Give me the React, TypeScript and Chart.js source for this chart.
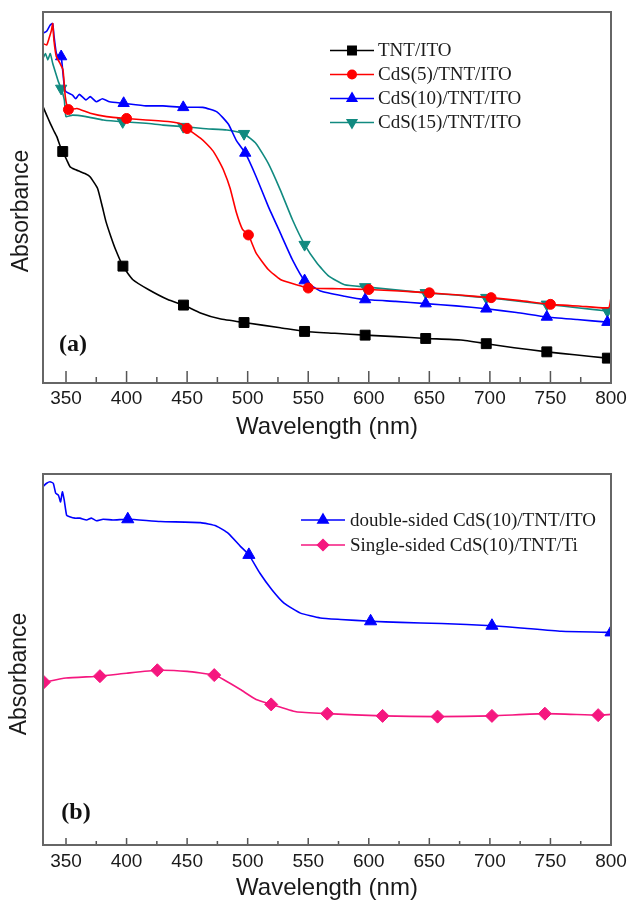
import React, { useEffect, useRef } from 'react';
import { Chart, registerables } from 'chart.js';
import { drawPoint } from 'chart.js/helpers';

Chart.register(...registerables);

// ---------- axis ----------
const X_MIN = 331;
const X_MAX = 800;
const X_TICKS = [350, 400, 450, 500, 550, 600, 650, 700, 750, 800];
const X_MINOR = [375, 425, 475, 525, 575, 625, 675, 725, 775];

// ---------- panel (a) ----------
const TNT_X = [331, 334, 337, 339.6, 342.4, 345, 347.3, 350.6, 353.3, 357, 361.5, 366, 369.8, 376, 380, 383, 387, 391, 397, 405, 418, 434, 447, 461, 477, 497, 527, 547, 572, 597, 622, 647, 676, 697, 720, 747, 770, 797, 800];
const TNT_Y = [74.5, 72.2, 70, 68.2, 66.4, 64, 62.4, 60.1, 58.3, 57.6, 57, 56.4, 55.6, 52.5, 47.5, 43.5, 39.5, 35.9, 31.5, 27.9, 25.2, 22.5, 21, 18.9, 17.3, 16.3, 14.9, 13.9, 13.4, 12.9, 12.5, 12, 11.6, 10.6, 9.5, 8.4, 7.6, 6.7, 6.6];
const TNT_MARKS = [347.3, 397, 447, 497, 547, 597, 647, 697, 747, 797];

const CDS5_X = [331, 334, 336, 338, 339, 340, 342, 345, 347.5, 349.4, 352, 359, 370, 383.6, 400, 416, 436, 445, 450, 461, 466, 471.5, 476, 480, 485.5, 490.6, 495.6, 500.6, 507, 517, 527, 540, 550, 575, 600, 625, 650, 675, 701, 725, 750, 775, 798, 800];
const CDS5_Y = [91.5, 91.1, 92.9, 95.1, 96.9, 92.5, 88, 86.2, 84.4, 77.2, 73.7, 74, 72.7, 71.8, 71.3, 70.9, 70.4, 69.8, 68.6, 66, 64.5, 62.5, 60, 57.4, 52.5, 46, 41.5, 39.9, 35, 30.6, 27.9, 26.5, 25.6, 25.4, 25.2, 24.8, 24.3, 23.7, 23, 22.2, 21.2, 20.7, 20.3, 23];
const CDS5_MARKS = [352, 400, 450, 500.6, 550, 600, 650, 701, 750];

const CDS10_X = [331, 334, 337, 339, 340, 342, 344, 346, 348.6, 350, 355.4, 358, 361, 366.5, 370, 375, 380, 386, 397.6, 416, 430, 446.8, 463, 474.6, 484, 490.6, 498, 507, 517, 527, 537, 547, 560, 580, 597, 622, 647, 672, 697, 722, 747, 772, 797, 800];
const CDS10_Y = [94.3, 94.8, 96.5, 96.9, 93.8, 88.9, 88, 88, 79.9, 78.5, 77.6, 76.6, 77.8, 76.3, 77.2, 75.8, 76.6, 75.8, 75.4, 74.7, 74.7, 74.3, 74.3, 73.1, 69.8, 65.4, 62, 55.6, 47.6, 40.4, 33.2, 27.6, 24.8, 23.4, 22.5, 22, 21.4, 20.8, 20, 19, 17.8, 17.1, 16.4, 16.3];
const CDS10_MARKS = [346, 397.6, 446.8, 498, 547, 597, 647, 697, 747, 797];

const CDS15_X = [331, 333, 335, 337, 339, 341.5, 343.6, 346, 348.6, 350, 355.4, 366.5, 380.8, 396.8, 416, 430, 446.8, 463, 482.8, 490, 497, 507, 517, 527, 537, 547, 557, 567, 580, 597, 622, 647, 672, 697, 722, 747, 772, 797, 800];
const CDS15_Y = [87.5, 88.8, 87.1, 88.8, 86.2, 83.5, 81.3, 79.4, 76.3, 71.8, 72.2, 71.8, 70.9, 70.4, 70, 69.5, 69.1, 68.6, 68.2, 67.8, 67.2, 64.5, 59.2, 52, 44, 37.3, 32.4, 28.8, 26.5, 25.9, 25.1, 24.3, 23.7, 23, 22.1, 21.2, 20.3, 19.4, 19.3];
const CDS15_MARKS = [346, 396.8, 446.8, 497, 547, 597, 647, 697, 747, 797];

// ---------- panel (b) ----------
const DOUBLE_X = [331, 334, 336.8, 339.5, 341.5, 343.7, 345.5, 347, 348.5, 350.5, 353, 357.4, 361.5, 367, 371, 375, 380.6, 388.8, 401, 428, 461, 474, 484, 494, 501, 510, 520, 530, 543.6, 560, 576.7, 601.5, 626, 660, 701.7, 725.6, 759, 800];
const DOUBLE_Y = [96.6, 97.5, 97.9, 97.5, 94.8, 94.3, 92.5, 95.2, 93, 88.9, 88.5, 88.1, 88.1, 87.6, 88.1, 87.4, 87.8, 87.6, 87.8, 87.2, 86.9, 86, 84, 80.5, 78.2, 73.3, 68.8, 65.2, 62.5, 61.2, 60.8, 60.3, 60, 59.7, 59.1, 58.5, 57.6, 57.3];
const DOUBLE_MARKS = [401, 501, 601.5, 701.7, 800];

const SINGLE_X = [331, 331.8, 350, 378, 400, 425.4, 450, 472.4, 480, 494, 507, 519.4, 540, 565.7, 611.4, 656.8, 701.7, 745.4, 789.4, 800];
const SINGLE_Y = [43.8, 43.9, 45, 45.5, 46.3, 47.1, 46.8, 45.8, 44.6, 41.9, 39.2, 37.9, 35.9, 35.4, 34.8, 34.6, 34.8, 35.4, 35.0, 35.2];
const SINGLE_MARKS = [331.8, 378, 425.4, 472.4, 519.4, 565.7, 611.4, 656.8, 701.7, 745.4, 789.4];

type Series = {
  label: string; xs: number[]; ys: number[]; marks: number[];
  color: string; style: string; radius: number; rotation: number;
};

const SERIES_A: Series[] = [
  { label: 'TNT/ITO', xs: TNT_X, ys: TNT_Y, marks: TNT_MARKS, color: '#000000', style: 'rect', radius: 7, rotation: 0 },
  { label: 'CdS(5)/TNT/ITO', xs: CDS5_X, ys: CDS5_Y, marks: CDS5_MARKS, color: '#ff0000', style: 'circle', radius: 5, rotation: 0 },
  { label: 'CdS(10)/TNT/ITO', xs: CDS10_X, ys: CDS10_Y, marks: CDS10_MARKS, color: '#0000ff', style: 'triangle', radius: 6.5, rotation: 0 },
  { label: 'CdS(15)/TNT/ITO', xs: CDS15_X, ys: CDS15_Y, marks: CDS15_MARKS, color: '#118a80', style: 'triangle', radius: 6.5, rotation: 180 },
];

const SERIES_B: Series[] = [
  { label: 'double-sided CdS(10)/TNT/ITO', xs: DOUBLE_X, ys: DOUBLE_Y, marks: DOUBLE_MARKS, color: '#0000ff', style: 'triangle', radius: 7, rotation: 0 },
  { label: 'Single-sided CdS(10)/TNT/Ti', xs: SINGLE_X, ys: SINGLE_Y, marks: SINGLE_MARKS, color: '#f5177f', style: 'rectRot', radius: 6.5, rotation: 0 },
];

type Panel = {
  series: Series[]; height: number; padTop: number; axisHeight: number;
  tickPad: number; titlePad: number; majorLen: number; minorLen: number;
  tag: string; tagX: number; tagY: number; yLabelX: number; yLabelY: number;
  legendLineX1: number; legendLineX2: number; legendTextX: number; legendY0: number; legendStep: number;
};

const PANEL_A: Panel = {
  series: SERIES_A, height: 450, padTop: 12, axisHeight: 67, tickPad: 6, titlePad: 11,
  majorLen: 12, minorLen: 6, tag: '(a)', tagX: 73, tagY: 345, yLabelX: 22, yLabelY: 211,
  legendLineX1: 330, legendLineX2: 374, legendTextX: 378, legendY0: 50.5, legendStep: 24,
};

const PANEL_B: Panel = {
  series: SERIES_B, height: 456, padTop: 24, axisHeight: 61, tickPad: 7, titlePad: 6,
  majorLen: 7, minorLen: 4, tag: '(b)', tagX: 76, tagY: 363, yLabelX: 20, yLabelY: 224,
  legendLineX1: 301, legendLineX2: 345, legendTextX: 350, legendY0: 70, legendStep: 25,
};

const SANS = '"Liberation Sans", Arial, sans-serif';
const SERIF = '"Liberation Serif", "Times New Roman", serif';
const TEXT = '#1a1a1a';

function makeConfig(p: Panel): any {
  const datasets = p.series.map((s) => ({
    label: s.label,
    data: s.xs.map((x, i) => ({ x, y: s.ys[i] })),
    borderColor: s.color,
    backgroundColor: s.color,
    borderWidth: 1.6,
    pointRadius: s.xs.map((x) => (s.marks.includes(x) ? s.radius : 0)),
    pointHoverRadius: 0,
    pointStyle: s.style,
    pointRotation: s.rotation,
    pointBackgroundColor: s.color,
    pointBorderColor: s.color,
    pointBorderWidth: 1,
    tension: 0.15,
    fill: false,
  }));

  const decor = {
    id: 'decor',
    afterDatasetsDraw(chart: any) {
      const { ctx, chartArea: a } = chart;
      const x = chart.scales.x;
      ctx.save();
      // inward ticks
      ctx.strokeStyle = '#555';
      ctx.lineWidth = 1.5;
      ctx.beginPath();
      for (const v of X_TICKS) {
        const px = x.getPixelForValue(v);
        ctx.moveTo(px, a.bottom);
        ctx.lineTo(px, a.bottom - p.majorLen);
      }
      for (const v of X_MINOR) {
        const px = x.getPixelForValue(v);
        ctx.moveTo(px, a.bottom);
        ctx.lineTo(px, a.bottom - p.minorLen);
      }
      ctx.stroke();
      // frame
      ctx.strokeStyle = '#666';
      ctx.lineWidth = 2;
      ctx.strokeRect(a.left, a.top, a.right - a.left, a.bottom - a.top);
      // panel tag
      ctx.fillStyle = '#111';
      ctx.font = `bold 24px ${SERIF}`;
      ctx.textAlign = 'center';
      ctx.textBaseline = 'middle';
      ctx.fillText(p.tag, p.tagX, p.tagY);
      // y title
      ctx.save();
      ctx.translate(p.yLabelX, p.yLabelY);
      ctx.rotate(-Math.PI / 2);
      ctx.font = `23px ${SANS}`;
      ctx.fillStyle = TEXT;
      ctx.fillText('Absorbance', 0, 0);
      ctx.restore();
      // legend
      p.series.forEach((s, i) => {
        const y = p.legendY0 + i * p.legendStep;
        ctx.strokeStyle = s.color;
        ctx.lineWidth = 1.5;
        ctx.beginPath();
        ctx.moveTo(p.legendLineX1, y);
        ctx.lineTo(p.legendLineX2, y);
        ctx.stroke();
        ctx.fillStyle = s.color;
        drawPoint(ctx, { pointStyle: s.style, radius: s.radius * 0.85, rotation: s.rotation, borderWidth: 1 } as any,
          (p.legendLineX1 + p.legendLineX2) / 2, y);
        ctx.fillStyle = TEXT;
        ctx.font = `19px ${SERIF}`;
        ctx.textAlign = 'left';
        ctx.textBaseline = 'middle';
        ctx.fillText(s.label, p.legendTextX, y + 1);
      });
      ctx.restore();
    },
  };

  return {
    type: 'line',
    data: { datasets },
    plugins: [decor],
    options: {
      responsive: false,
      animation: false,
      events: [],
      layout: { padding: { left: 43, right: 17, top: p.padTop, bottom: 0 } },
      plugins: { legend: { display: false }, tooltip: { enabled: false }, title: { display: false } },
      scales: {
        x: {
          type: 'linear',
          min: X_MIN,
          max: X_MAX,
          afterBuildTicks: (scale: any) => { scale.ticks = X_TICKS.map((v) => ({ value: v })); },
          afterFit: (scale: any) => {
            scale.height = p.axisHeight;
            scale.paddingLeft = 0;
            scale.paddingRight = 0;
          },
          grid: { display: false, drawTicks: false },
          border: { display: false },
          ticks: {
            autoSkip: false, maxRotation: 0, padding: p.tickPad, color: TEXT,
            font: { family: SANS, size: 19, lineHeight: 1 },
          },
          title: {
            display: true, text: 'Wavelength (nm)', color: TEXT,
            font: { family: SANS, size: 24, lineHeight: 1 },
            padding: { top: 0, bottom: p.titlePad },
          },
        },
        y: { type: 'linear', min: 0, max: 100, display: false },
      },
    },
  };
}

function PanelChart({ panel, top }: { panel: Panel; top: number }) {
  const ref = useRef<HTMLCanvasElement | null>(null);
  useEffect(() => {
    if (!ref.current) return;
    const chart = new Chart(ref.current, makeConfig(panel));
    return () => chart.destroy();
  }, [panel]);
  return (
    <canvas
      ref={ref}
      width={628}
      height={panel.height}
      style={{ position: 'absolute', left: 0, top, width: 628, height: panel.height }}
    />
  );
}

export default function App() {
  return (
    <div style={{ position: 'absolute', left: 0, top: 0, width: 628, height: 906, background: '#ffffff', overflow: 'hidden' }}>
      <PanelChart panel={PANEL_A} top={0} />
      <PanelChart panel={PANEL_B} top={450} />
    </div>
  );
}
